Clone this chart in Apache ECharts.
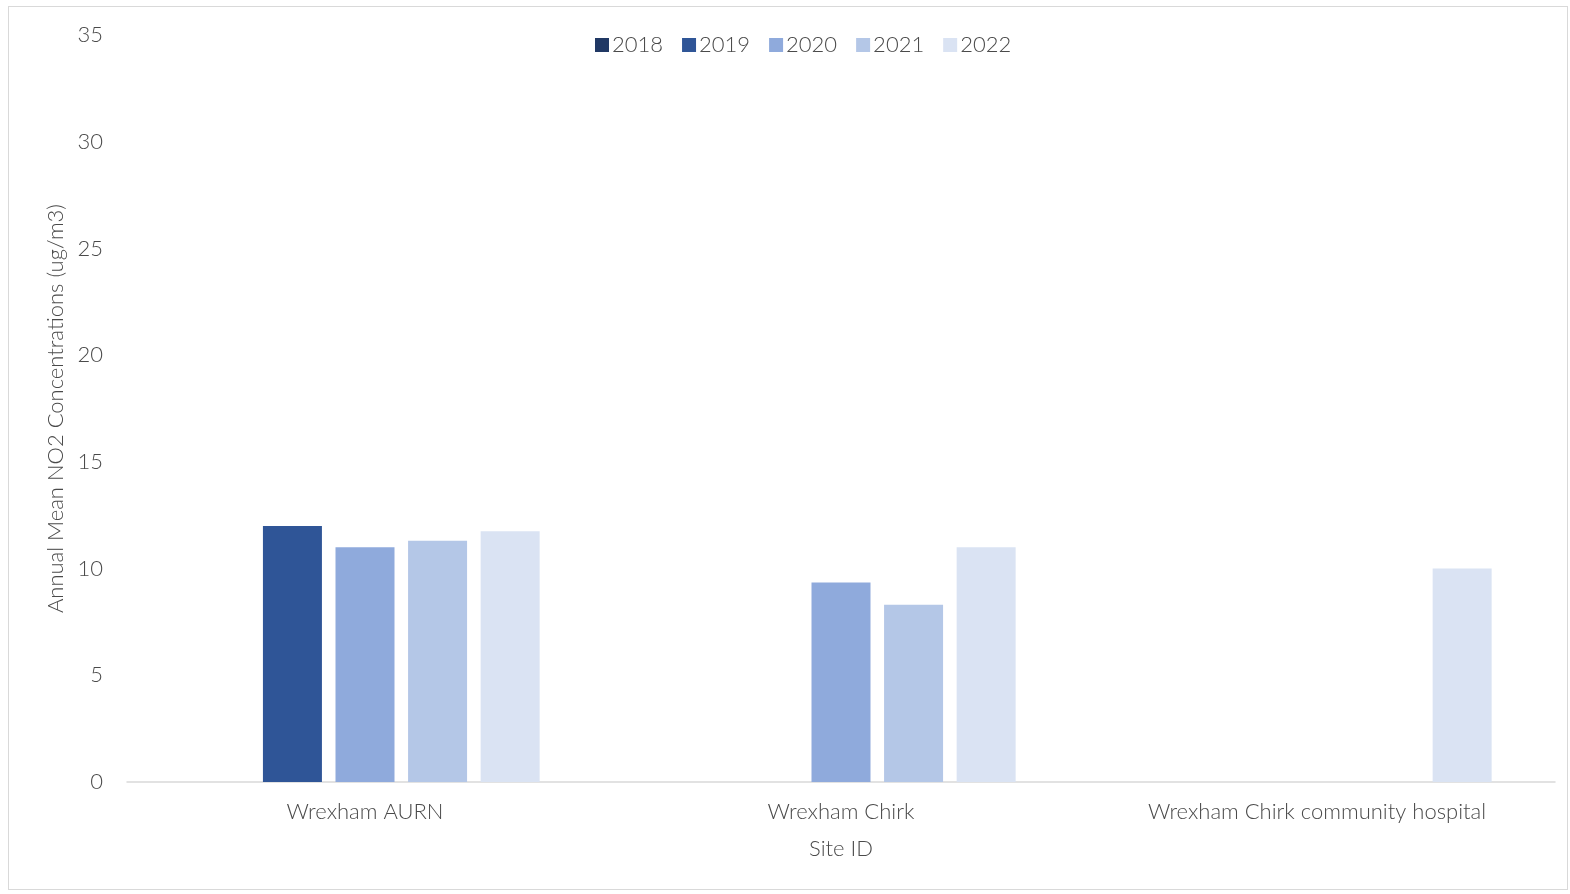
<!DOCTYPE html>
<html><head><meta charset="utf-8">
<script src="https://cdn.jsdelivr.net/npm/echarts@6/dist/echarts.min.js"></script>
<style>
html,body{margin:0;padding:0;background:#fff;}
#frame{position:absolute;left:8px;top:6px;width:1560px;height:884px;border:1px solid #D9D9D9;box-sizing:border-box;}
#c{position:absolute;left:0;top:0;width:1570px;height:894px;}
</style></head>
<body><div id="frame"></div><div id="c"></div>
<script>
const categories = ["Wrexham AURN", "Wrexham Chirk", "Wrexham Chirk community hospital"];
const years = ["2018", "2019", "2020", "2021", "2022"];
const v2018 = [null, null, null];
const v2019 = [12.0, null, null];
const v2020 = [11.0, 9.35, null];
const v2021 = [11.3, 8.3, null];
const v2022 = [11.75, 11.0, 10.0];
const colors = ["#203864", "#2F5597", "#8FAADC", "#B4C7E7", "#DAE3F3"];
const seriesValues = [v2018, v2019, v2020, v2021, v2022];
const font = "Lato";
const fw = 300;
const tc = '#4A4A4A';
const chart = echarts.init(document.getElementById('c'));
chart.setOption({
  animation:false,
  textStyle:{fontFamily:font},
  legend:{top:29,left:590,itemWidth:14,itemHeight:14,itemGap:19,icon:'rect',
    textStyle:{fontSize:22,color:tc,fontFamily:font,fontWeight:fw,padding:[0,0,0,-2]},data:years},
  grid:{left:127,right:15,top:35,bottom:112},
  xAxis:{type:'category',data:categories,name:'Site ID',nameLocation:'middle',nameGap:56,
    nameTextStyle:{fontSize:22,color:tc,fontFamily:font,fontWeight:fw},
    axisLine:{lineStyle:{color:'#D9D9D9',width:1.5}},axisTick:{show:false},
    axisLabel:{fontSize:22,color:tc,margin:19,fontFamily:font,fontWeight:fw}},
  yAxis:{type:'value',min:0,max:35,interval:5,name:'Annual Mean NO2 Concentrations (ug/m3)',
    nameLocation:'middle',nameGap:58,nameTextStyle:{fontSize:22,color:tc,fontFamily:font,fontWeight:fw},
    splitLine:{show:false},axisLine:{show:false},axisTick:{show:false},
    axisLabel:{fontSize:22,color:tc,margin:24,fontFamily:font,fontWeight:fw}},
  series: years.map((y,i)=>({name:y,type:'bar',data:seriesValues[i],barWidth:59,barGap:'23%',
    itemStyle:{color:colors[i]}}))
});
</script></body></html>
